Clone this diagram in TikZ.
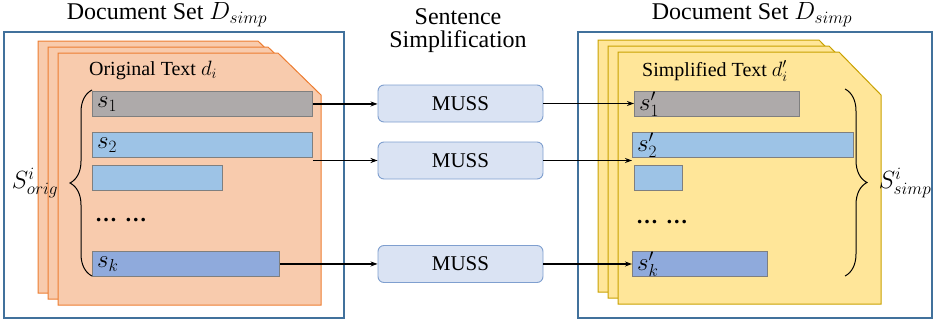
\documentclass[tikz,border=0pt]{standalone}
\usepackage{fontspec}
\setmainfont{Liberation Serif}
\newfontfamily\tnr{Liberation Serif}
\usetikzlibrary{arrows.meta,decorations.pathreplacing}
\definecolor{outerblue}{HTML}{41719C}
\definecolor{orfill}{HTML}{F8CBAD}
\definecolor{ordraw}{HTML}{ED7D31}
\definecolor{yefill}{HTML}{FFE699}
\definecolor{yedraw}{HTML}{C9A100}
\definecolor{graybar}{HTML}{AEAAAA}
\definecolor{lightbar}{HTML}{9DC3E6}
\definecolor{darkbar}{HTML}{8FAADC}
\definecolor{barline}{HTML}{7F7F7F}
\definecolor{mussfill}{HTML}{DAE3F3}
\definecolor{mussdraw}{HTML}{7F9FCF}
\tikzset{
  outerbox/.style={draw=outerblue, line width=1.3pt},
  orpage/.style={fill=orfill, draw=ordraw, line width=1pt},
  yepage/.style={fill=yefill, draw=yedraw, line width=1pt},
  bar/.style={draw=barline, line width=0.9pt, anchor=north west, inner sep=0pt, minimum height=25pt},
  barlabel/.style={anchor=west, font=\tnr\fontsize{23}{24}\selectfont, inner sep=0pt},
  muss/.style={draw=mussdraw, fill=mussfill, line width=0.9pt, rounded corners=6pt, minimum width=165pt, minimum height=37pt, font=\tnr\fontsize{21}{22}\selectfont, inner sep=0pt},
  arr/.style={-{Stealth[length=7pt,width=5pt]}, line width=1.4pt, black},
  title/.style={font=\tnr\fontsize{24}{26}\selectfont, inner sep=0pt},
  pagetitle/.style={font=\tnr\fontsize{20}{22}\selectfont, inner sep=0pt},
  dotsl/.style={font=\tnr\bfseries\fontsize{22}{22}\selectfont, inner sep=0pt, anchor=west},
  bracestyle/.style={decorate, decoration={brace, amplitude=22pt}, line width=1pt},
  setlabel/.style={font=\tnr\fontsize{25}{26}\selectfont, inner sep=0pt},
}
\begin{document}
\begin{tikzpicture}[x=1pt,y=-1pt]
\useasboundingbox (0,0) rectangle (934,324);
% titles
\node[title] (tl) at (167,15) {Document Set $D_{simp}$};
\node[title] (tr) at (752,15) {Document Set $D_{simp}$};
\node[title, align=center] (ts) at (458,31) {Sentence\\[-3pt]Simplification};
% outer boxes
\draw[outerbox] (4,32) rectangle (344,318);
\draw[outerbox] (578,32) rectangle (932,318);
% left pages
\draw[orpage] (38,41) -- (258,41) -- (301,83) -- (301,293) -- (38,293) -- cycle;
\draw[orpage] (48,47) -- (268,47) -- (311,89) -- (311,299) -- (48,299) -- cycle;
\draw[orpage] (58,53) -- (278,53) -- (321,95) -- (321,305) -- (58,305) -- cycle;
\node[pagetitle] (pl) at (153,70) {Original Text $d_i$};
% right pages
\draw[yepage] (598,40) -- (819,40) -- (861,83) -- (861,292) -- (598,292) -- cycle;
\draw[yepage] (608,46) -- (829,46) -- (871,89) -- (871,298) -- (608,298) -- cycle;
\draw[yepage] (618,52) -- (839,52) -- (881,95) -- (881,304) -- (618,304) -- cycle;
\node[pagetitle] (pr) at (715,71) {Simplified Text $d_i'$};
% left bars
\node[bar, fill=graybar, minimum width=220pt] (b1) at (92,91) {};
\node[bar, fill=lightbar, minimum width=220pt] (b2) at (92,132) {};
\node[bar, fill=lightbar, minimum width=130pt] (b3) at (92,165) {};
\node[bar, fill=darkbar, minimum width=187pt] (bk) at (92,251) {};
\node[barlabel] at ([xshift=5pt]b1.west) {$s_1$};
\node[barlabel] at ([xshift=5pt]b2.west) {$s_2$};
\node[barlabel] at ([xshift=5pt]bk.west) {$s_k$};
\node[dotsl] (dl) at (95,220) {…\hspace{0.35em}…};
% right bars
\node[bar, fill=graybar, minimum width=165pt] (r1) at (634,91) {};
\node[bar, fill=lightbar, minimum width=221pt] (r2) at (632,132) {};
\node[bar, fill=lightbar, minimum width=48pt] (r3) at (634,165) {};
\node[bar, fill=darkbar, minimum width=135pt] (rk) at (632,251) {};
\node[barlabel] at ([xshift=5pt]r1.west) {$s_1'$};
\node[barlabel] at ([xshift=5pt]r2.west) {$s_2'$};
\node[barlabel] at ([xshift=5pt]rk.west) {$s_k'$};
\node[dotsl] (dr) at (636,222) {…\hspace{0.35em}…};
% MUSS
\node[muss] (m1) at (460.5,103.5) {MUSS};
\node[muss] (m2) at (460.5,160.5) {MUSS};
\node[muss] (mk) at (460.5,264) {MUSS};
% arrows
\draw[arr] (b1.east) -- (b1.east -| m1.west);
\draw[arr] (b2.south east |- m2.west) -- (m2.west);
\draw[arr] (bk.east) -- (bk.east -| mk.west);
\draw[arr] (m1.east) -- (m1.east -| r1.west);
\draw[arr] (m2.east) -- (m2.east -| r2.west);
\draw[arr] (mk.east) -- (mk.east -| rk.west);
% braces
\coordinate (lbt) at (92,90);
\coordinate (lbb) at (92,276);
\draw[bracestyle] (lbb) -- (lbt);
\node[setlabel] (so) at (35,183) {$S^i_{orig}$};
\coordinate (rbt) at (845,89);
\coordinate (rbb) at (845,276);
\draw[bracestyle] (rbt) -- (rbb);
\node[setlabel] (ss) at (905,183) {$S^i_{simp}$};
\end{tikzpicture}
\end{document}
